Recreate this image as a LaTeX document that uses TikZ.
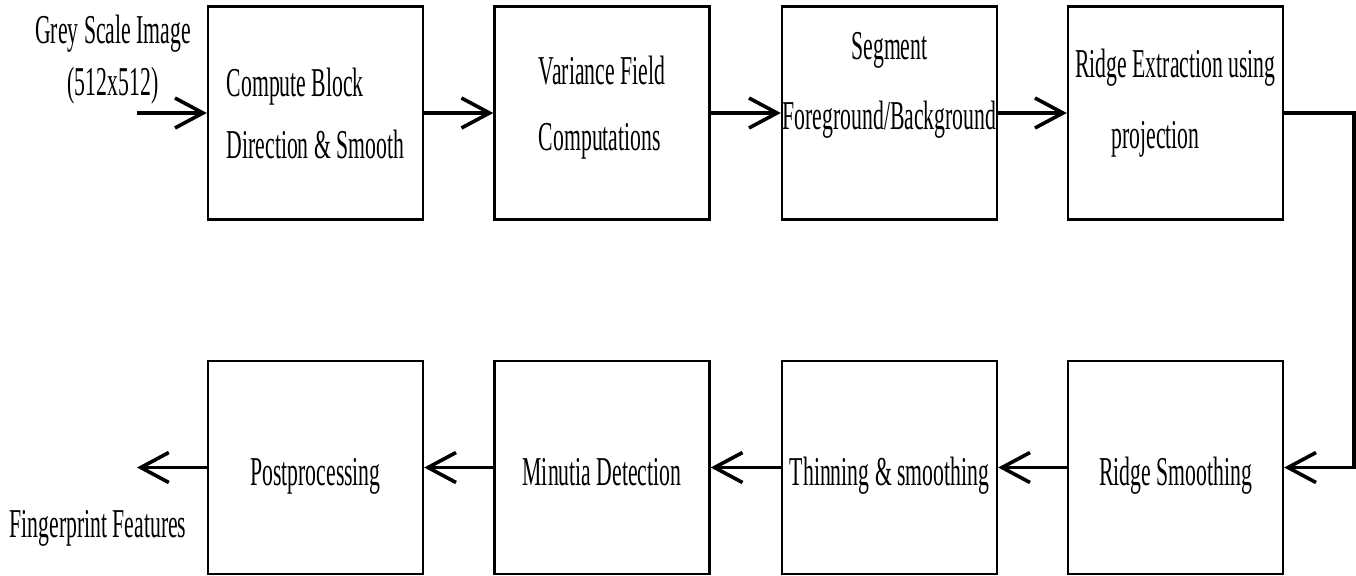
\documentclass[tikz,border=0pt]{standalone}
\usepackage{fontspec}
\setmainfont{Liberation Serif}[FakeStretch=0.53]
\usetikzlibrary{arrows.meta}
\tikzset{
	bloque/.style={draw, line width=1.2pt, minimum width=107.5pt, minimum height=106.5pt,
		inner sep=0pt, font=\fontsize{20.5}{31}\selectfont},
	abajo/.style={bloque, text height=22pt, text depth=4.5pt},
	flujo/.style={line width=1.8pt, -{Straight Barb[length=14pt,width=15pt]}},
	texto/.style={inner sep=0pt, align=center, font=\fontsize{20.5}{26}\selectfont}
}

\begin{document}
\begin{tikzpicture}[x=0.5pt, y=-0.5pt]
	\useasboundingbox (0,0) rectangle (1356,575);

	%Fila superior
	\node[bloque, align=left] (dir) at (315.5,113) {Compute Block\\Direction \& Smooth};
	\node[bloque, align=left, text depth=10pt] (var) at (602,113) {Variance Field\\[2pt]Computations};
	\node[bloque, align=center, text depth=32pt] (seg) at (889.5,113) {Segment\\[4pt]Foreground/Background};
	\node[bloque, align=center, text depth=14.5pt] (extr) at (1175.5,113) {Ridge Extraction using\\[4.5pt]projection\hspace*{20pt}};

	%Fila inferior
	\node[abajo] (rsmooth) at (1175.5,467.5) {Ridge Smoothing};
	\node[abajo] (thin) at (889.5,467.5) {Thinning \& smoothing};
	\node[abajo] (minu) at (602,467.5) {Minutia Detection};
	\node[abajo] (post) at (315.5,467.5) {Postprocessing};

	%Entrada y salida
	\node[texto] (inlbl) at (113,60) {Grey Scale Image\\(512x512)};
	\node[texto] (outlbl) at (98,528) {Fingerprint Features};
	\coordinate (in) at (137,113);
	\coordinate (out) at (137,467.5);
	\coordinate (borde) at (1354,0);

	%Flechas
	\draw[flujo] (in) -- (dir.west);
	\draw[flujo] (dir.east) -- (var.west);
	\draw[flujo] (var.east) -- (seg.west);
	\draw[flujo] (seg.east) -- (extr.west);
	\draw[flujo] (extr.east) -- (borde |- extr.east) -- (borde |- rsmooth.east) -- (rsmooth.east);
	\draw[flujo] (rsmooth.west) -- (thin.east);
	\draw[flujo] (thin.west) -- (minu.east);
	\draw[flujo] (minu.west) -- (post.east);
	\draw[flujo] (post.west) -- (out);
\end{tikzpicture}
\end{document}
